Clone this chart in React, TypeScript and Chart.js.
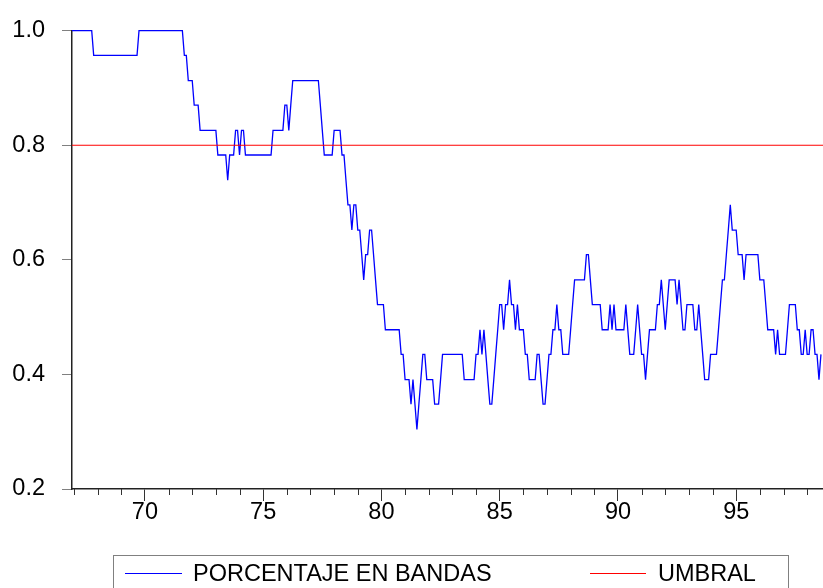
import React, { useEffect, useRef } from 'react';
import { Chart, registerables } from 'chart.js';

Chart.register(...registerables);

// ---- data ----
const START_YEAR = 1966;
const START_MONTH = 12; // first monthly observation
const PORCENTAJE_EN_BANDAS: number[] = [
  1.000, 1.000, 1.000, 1.000, 1.000, 1.000, 1.000, 1.000, 1.000, 1.000, 1.000, 0.957,
  0.957, 0.957, 0.957, 0.957, 0.957, 0.957, 0.957, 0.957, 0.957, 0.957, 0.957, 0.957,
  0.957, 0.957, 0.957, 0.957, 0.957, 0.957, 0.957, 0.957, 0.957, 0.957, 1.000, 1.000,
  1.000, 1.000, 1.000, 1.000, 1.000, 1.000, 1.000, 1.000, 1.000, 1.000, 1.000, 1.000,
  1.000, 1.000, 1.000, 1.000, 1.000, 1.000, 1.000, 1.000, 1.000, 0.957, 0.957, 0.913,
  0.913, 0.913, 0.870, 0.870, 0.870, 0.826, 0.826, 0.826, 0.826, 0.826, 0.826, 0.826,
  0.826, 0.826, 0.783, 0.783, 0.783, 0.783, 0.783, 0.739, 0.783, 0.783, 0.783, 0.826,
  0.826, 0.783, 0.826, 0.826, 0.783, 0.783, 0.783, 0.783, 0.783, 0.783, 0.783, 0.783,
  0.783, 0.783, 0.783, 0.783, 0.783, 0.783, 0.826, 0.826, 0.826, 0.826, 0.826, 0.826,
  0.870, 0.870, 0.826, 0.870, 0.913, 0.913, 0.913, 0.913, 0.913, 0.913, 0.913, 0.913,
  0.913, 0.913, 0.913, 0.913, 0.913, 0.913, 0.870, 0.826, 0.783, 0.783, 0.783, 0.783,
  0.783, 0.826, 0.826, 0.826, 0.826, 0.783, 0.783, 0.739, 0.696, 0.696, 0.652, 0.696,
  0.696, 0.652, 0.652, 0.609, 0.565, 0.609, 0.609, 0.652, 0.652, 0.609, 0.565, 0.522,
  0.522, 0.522, 0.522, 0.478, 0.478, 0.478, 0.478, 0.478, 0.478, 0.478, 0.478, 0.435,
  0.435, 0.391, 0.391, 0.391, 0.348, 0.391, 0.348, 0.304, 0.348, 0.391, 0.435, 0.435,
  0.391, 0.391, 0.391, 0.391, 0.348, 0.348, 0.348, 0.391, 0.435, 0.435, 0.435, 0.435,
  0.435, 0.435, 0.435, 0.435, 0.435, 0.435, 0.435, 0.391, 0.391, 0.391, 0.391, 0.391,
  0.391, 0.435, 0.435, 0.478, 0.435, 0.478, 0.435, 0.391, 0.348, 0.348, 0.391, 0.435,
  0.478, 0.522, 0.522, 0.478, 0.522, 0.522, 0.565, 0.522, 0.522, 0.478, 0.522, 0.478,
  0.478, 0.478, 0.435, 0.435, 0.391, 0.391, 0.391, 0.391, 0.435, 0.435, 0.391, 0.348,
  0.348, 0.391, 0.435, 0.435, 0.478, 0.478, 0.522, 0.478, 0.478, 0.435, 0.435, 0.435,
  0.435, 0.478, 0.522, 0.565, 0.565, 0.565, 0.565, 0.565, 0.565, 0.609, 0.609, 0.565,
  0.522, 0.522, 0.522, 0.522, 0.522, 0.478, 0.478, 0.478, 0.478, 0.522, 0.478, 0.522,
  0.478, 0.478, 0.478, 0.478, 0.478, 0.522, 0.478, 0.435, 0.435, 0.435, 0.478, 0.522,
  0.478, 0.435, 0.435, 0.391, 0.435, 0.478, 0.478, 0.478, 0.478, 0.522, 0.522, 0.565,
  0.522, 0.478, 0.522, 0.565, 0.565, 0.565, 0.565, 0.522, 0.565, 0.522, 0.478, 0.478,
  0.522, 0.522, 0.522, 0.522, 0.478, 0.478, 0.522, 0.478, 0.435, 0.391, 0.391, 0.391,
  0.435, 0.435, 0.435, 0.435, 0.478, 0.522, 0.565, 0.565, 0.609, 0.652, 0.696, 0.652,
  0.652, 0.652, 0.609, 0.609, 0.609, 0.565, 0.609, 0.609, 0.609, 0.609, 0.609, 0.609,
  0.609, 0.565, 0.565, 0.565, 0.522, 0.478, 0.478, 0.478, 0.478, 0.435, 0.478, 0.435,
  0.435, 0.435, 0.435, 0.478, 0.522, 0.522, 0.522, 0.522, 0.478, 0.478, 0.435, 0.435,
  0.478, 0.435, 0.435, 0.478, 0.478, 0.435, 0.435, 0.391, 0.435,
];
const UMBRAL = 0.8;

const X_MIN = START_YEAR + (START_MONTH - 1) / 12;
const X_MAX = 1998.67;
const X_TICK_YEARS = [1970, 1975, 1980, 1985, 1990, 1995];
const X_TICK_LABELS = ['70', '75', '80', '85', '90', '95'];
const X_MINOR_YEARS = [
  1967, 1968, 1969, 1971, 1972, 1973, 1974, 1976, 1977, 1978, 1979, 1981, 1982,
  1983, 1984, 1986, 1987, 1988, 1989, 1991, 1992, 1993, 1994, 1996, 1997, 1998,
];
const Y_MIN = 0.2;
const Y_MAX = 1.0;
const Y_TICKS = [0.2, 0.4, 0.6, 0.8, 1.0];
const Y_TICK_LABELS = ['0.2', '0.4', '0.6', '0.8', '1.0'];

const FONT_FAMILY = "'Liberation Sans', Arial, sans-serif";
const FONT_SIZE = 23.5;

const minorTicksPlugin = {
  id: 'minorTicks',
  afterDraw(chart: any) {
    const xs = chart.scales.x;
    const ctx = chart.ctx as CanvasRenderingContext2D;
    const bottom = chart.chartArea.bottom;
    ctx.save();
    ctx.strokeStyle = '#333333';
    ctx.lineWidth = 1;
    ctx.beginPath();
    X_MINOR_YEARS.forEach((yr) => {
      const px = Math.round(xs.getPixelForValue(yr)) + 0.5;
      ctx.moveTo(px, bottom);
      ctx.lineTo(px, bottom + 6);
    });
    ctx.stroke();
    ctx.restore();
  },
};

export default function App() {
  const canvasRef = useRef<HTMLCanvasElement | null>(null);

  useEffect(() => {
    const canvas = canvasRef.current;
    if (!canvas) return;
    const points = PORCENTAJE_EN_BANDAS.map((v, i) => ({
      x: START_YEAR + (START_MONTH - 1 + i) / 12,
      y: v,
    }));
    const chart = new Chart(canvas, {
      type: 'line',
      data: {
        datasets: [
          {
            label: 'PORCENTAJE EN BANDAS',
            data: points,
            borderColor: '#0000ff',
            borderWidth: 1.3,
            pointRadius: 0,
            tension: 0,
            clip: false,
            order: 1,
          },
          {
            label: 'UMBRAL',
            data: [
              { x: X_MIN, y: UMBRAL },
              { x: X_MAX, y: UMBRAL },
            ],
            borderColor: '#ff0000',
            borderWidth: 1.1,
            pointRadius: 0,
            tension: 0,
            clip: false,
            order: 0,
          },
        ],
      },
      options: {
        animation: false,
        responsive: false,
        maintainAspectRatio: false,
        events: [],
        layout: { padding: { top: 30.7, left: 0, right: 0, bottom: 0 } },
        plugins: {
          legend: { display: false },
          tooltip: { enabled: false },
        },
        scales: {
          x: {
            type: 'linear',
            position: 'bottom',
            min: X_MIN,
            max: X_MAX,
            bounds: 'data',
            afterBuildTicks: (s: any) => {
              s.ticks = X_TICK_YEARS.map((v) => ({ value: v }));
            },
            afterFit: (s: any) => {
              s.height = 588 - 489;
            },
            ticks: {
              autoSkip: false,
              maxRotation: 0,
              padding: 0,
              color: '#000000',
              font: { family: FONT_FAMILY, size: FONT_SIZE, lineHeight: 1 },
              callback: (value: any) => {
                const idx = X_TICK_YEARS.indexOf(Number(value));
                return idx >= 0 ? X_TICK_LABELS[idx] : '';
              },
            },
            grid: {
              drawOnChartArea: false,
              drawTicks: true,
              tickLength: 12,
              color: '#333333',
              lineWidth: 1,
            },
            border: { display: true, color: '#222222', width: 1.5 },
          },
          y: {
            type: 'linear',
            position: 'left',
            min: Y_MIN,
            max: Y_MAX,
            bounds: 'data',
            afterBuildTicks: (s: any) => {
              s.ticks = Y_TICKS.map((v) => ({ value: v }));
            },
            afterFit: (s: any) => {
              s.width = 72;
            },
            ticks: {
              autoSkip: false,
              padding: 17,
              color: '#000000',
              font: { family: FONT_FAMILY, size: FONT_SIZE, lineHeight: 1 },
              callback: (value: any) => {
                const idx = Y_TICKS.findIndex((t) => Math.abs(t - Number(value)) < 1e-9);
                return idx >= 0 ? Y_TICK_LABELS[idx] : '';
              },
            },
            grid: {
              drawOnChartArea: false,
              drawTicks: true,
              tickLength: 10,
              color: '#808080',
              lineWidth: 1,
            },
            border: { display: true, color: '#222222', width: 1.5 },
          },
        },
      },
      plugins: [minorTicksPlugin],
    } as any);
    return () => {
      chart.destroy();
    };
  }, []);

  const textStyle: React.CSSProperties = {
    position: 'absolute',
    top: 5.5,
    fontFamily: FONT_FAMILY,
    fontSize: FONT_SIZE,
    lineHeight: `${FONT_SIZE}px`,
    color: '#000',
    whiteSpace: 'nowrap',
  };

  return (
    <div
      style={{
        position: 'fixed',
        left: 0,
        top: 0,
        width: 823,
        height: 588,
        overflow: 'hidden',
        background: '#ffffff',
      }}
    >
      <canvas
        ref={canvasRef}
        width={823}
        height={588}
        style={{ position: 'absolute', left: 0, top: 0, width: 823, height: 588 }}
      />
      <div
        style={{
          position: 'absolute',
          left: 112.7,
          top: 555,
          width: 676.6,
          height: 60,
          boxSizing: 'border-box',
          border: '1.3px solid #808080',
        }}
      >
        <div
          style={{
            position: 'absolute',
            left: 11,
            top: 16.5,
            width: 57,
            height: 1,
            background: '#0000ff',
          }}
        />
        <span style={{ ...textStyle, left: 79.3 }}>PORCENTAJE EN BANDAS</span>
        <div
          style={{
            position: 'absolute',
            left: 476,
            top: 16.5,
            width: 56,
            height: 1,
            background: '#ff0000',
          }}
        />
        <span style={{ ...textStyle, left: 544.3 }}>UMBRAL</span>
      </div>
    </div>
  );
}
